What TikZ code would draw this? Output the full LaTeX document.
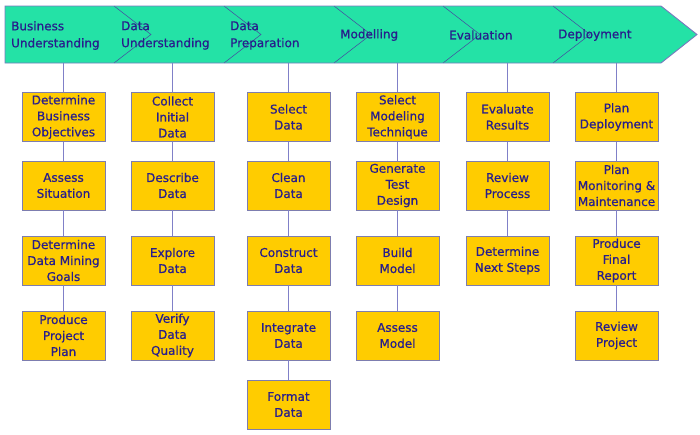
\documentclass[tikz,border=0pt]{standalone}
\usepackage{fontspec}
\setmainfont{DejaVu Sans}
\newfontfamily\boxfont[FakeBold=0.7]{DejaVu Sans}
\definecolor{bannerfill}{RGB}{36,226,166}
\definecolor{bannerline}{RGB}{120,120,190}
\definecolor{chevline}{RGB}{70,70,160}
\definecolor{txtblue}{RGB}{40,30,140}
\definecolor{boxfill}{RGB}{255,204,0}
\definecolor{boxline}{RGB}{125,125,175}
\definecolor{conline}{RGB}{128,128,200}
\tikzset{
  stagebox/.style={draw=boxline, fill=boxfill, minimum width=83pt, minimum height=49pt,
    inner sep=0pt, align=center, text=txtblue, font=\boxfont\fontsize{12}{16}\selectfont},
  phaselabel/.style={anchor=west, align=left, inner sep=0pt, text=txtblue,
    font=\boxfont\fontsize{12}{17}\selectfont},
  conn/.style={draw=conline, line width=0.8pt}
}
\begin{document}
\begin{tikzpicture}[x=1pt,y=-1pt]
\useasboundingbox (0,0) rectangle (700,434);
% banner
\fill[bannerfill] (5,6) -- (661,6) -- (697,34.5) -- (661,63) -- (5,63) -- cycle;
\foreach \xi in {114,224,334,443,553}{
  \draw[chevline, line width=0.5pt] (\xi,6) -- (\xi+37,34.5) -- (\xi,63);
}
\draw[bannerline, line width=0.9pt] (5,6) -- (661,6) -- (697,34.5) -- (661,63) -- (5,63) -- cycle;
% phase labels
\node[phaselabel] (p1) at (11,35.5) {Business\\Understanding};
\node[phaselabel] (p2) at (121,35.5) {Data\\Understanding};
\node[phaselabel] (p3) at (230,35.5) {Data\\Preparation};
\node[phaselabel] (p4) at (340,35) {Modelling};
\node[phaselabel] (p5) at (449,35) {Evaluation};
\node[phaselabel] (p6) at (558,35) {Deployment};
% banner anchors for connectors
\coordinate (t1) at (63.5,63);
\coordinate (t2) at (172.5,63);
\coordinate (t3) at (288.5,63);
\coordinate (t4) at (397.5,63);
\coordinate (t5) at (507.5,63);
\coordinate (t6) at (616.5,63);
% column 1
\node[stagebox] (a1) at (63.5,117) {Determine\\Business\\Objectives};
\node[stagebox] (a2) at (63.5,185.5) {Assess\\Situation};
\node[stagebox] (a3) at (63.5,260.5) {Determine\\Data Mining\\Goals};
\node[stagebox] (a4) at (63.5,335.5) {Produce\\Project\\Plan};
% column 2
\node[stagebox] (b1) at (172.5,117) {Collect\\Initial\\Data};
\node[stagebox] (b2) at (172.5,185.5) {Describe\\Data};
\node[stagebox] (b3) at (172.5,260.5) {Explore\\Data};
\node[stagebox] (b4) at (172.5,335.5) {Verify\\Data\\Quality};
% column 3
\node[stagebox] (c1) at (288.5,117) {Select\\Data};
\node[stagebox] (c2) at (288.5,185.5) {Clean\\Data};
\node[stagebox] (c3) at (288.5,260.5) {Construct\\Data};
\node[stagebox] (c4) at (288.5,335.5) {Integrate\\Data};
\node[stagebox] (c5) at (288.5,404.5) {Format\\Data};
% column 4
\node[stagebox] (d1) at (397.5,117) {Select\\Modeling\\Technique};
\node[stagebox] (d2) at (397.5,185.5) {Generate\\Test\\Design};
\node[stagebox] (d3) at (397.5,260.5) {Build\\Model};
\node[stagebox] (d4) at (397.5,335.5) {Assess\\Model};
% column 5
\node[stagebox] (e1) at (507.5,117) {Evaluate\\Results};
\node[stagebox] (e2) at (507.5,185.5) {Review\\Process};
\node[stagebox] (e3) at (507.5,260.5) {Determine\\Next Steps};
% column 6
\node[stagebox] (f1) at (616.5,117) {Plan\\Deployment};
\node[stagebox] (f2) at (616.5,185.5) {Plan\\Monitoring \&\\Maintenance};
\node[stagebox] (f3) at (616.5,260.5) {Produce\\Final\\Report};
\node[stagebox] (f4) at (616.5,335.5) {Review\\Project};
% connectors
\draw[conn] (t1) -- (a1); \draw[conn] (a1) -- (a2); \draw[conn] (a2) -- (a3); \draw[conn] (a3) -- (a4);
\draw[conn] (t2) -- (b1); \draw[conn] (b1) -- (b2); \draw[conn] (b2) -- (b3); \draw[conn] (b3) -- (b4);
\draw[conn] (t3) -- (c1); \draw[conn] (c1) -- (c2); \draw[conn] (c2) -- (c3); \draw[conn] (c3) -- (c4); \draw[conn] (c4) -- (c5);
\draw[conn] (t4) -- (d1); \draw[conn] (d1) -- (d2); \draw[conn] (d2) -- (d3); \draw[conn] (d3) -- (d4);
\draw[conn] (t5) -- (e1); \draw[conn] (e1) -- (e2); \draw[conn] (e2) -- (e3);
\draw[conn] (t6) -- (f1); \draw[conn] (f1) -- (f2); \draw[conn] (f2) -- (f3); \draw[conn] (f3) -- (f4);
\end{tikzpicture}
\end{document}
